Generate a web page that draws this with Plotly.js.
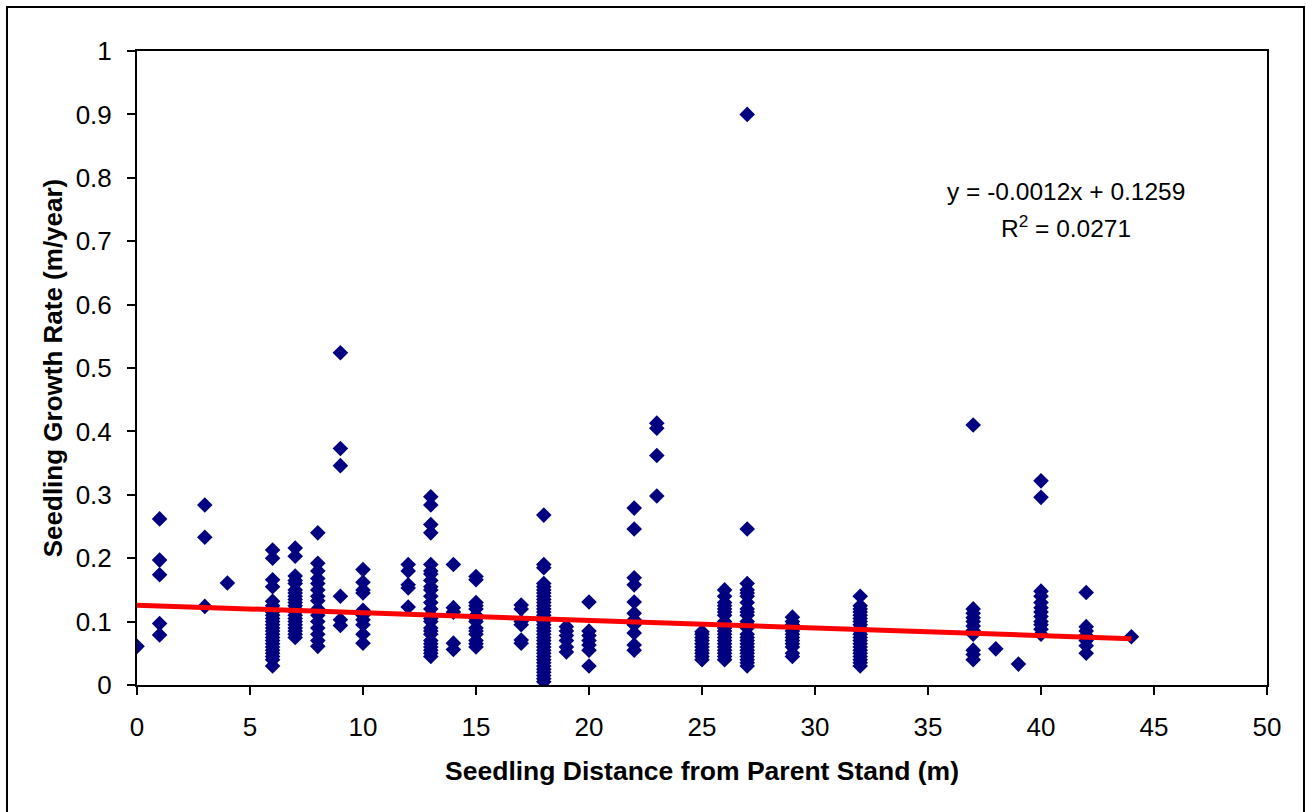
<!DOCTYPE html>
<html>
<head>
<meta charset="utf-8">
<script src="https://cdn.plot.ly/plotly-3.0.1.min.js"></script>
<style>
  html, body { margin: 0; padding: 0; background: #fff; overflow: hidden; }
  #frame { position: absolute; left: 6px; top: 6px; width: 1299px; height: 820px; border: 2px solid #000; box-sizing: border-box; pointer-events: none; z-index: 5; }
  #chart { position: absolute; left: 0; top: 0; width: 1306px; height: 812px; }
</style>
</head>
<body>
<div id="chart"></div>
<div id="frame"></div>
<script>
// Distances (m) of each column of seedlings
const columnDistances = [0, 1, 3, 4, 6, 7, 8, 9, 10, 12, 13, 14, 15, 17, 18, 19, 20, 22, 23, 25, 26, 27, 29, 32, 37, 38, 39, 40, 42, 44];
// Growth rates (m/year) observed at each distance
const columnRates = [
  [0.061],
  [0.262, 0.197, 0.174, 0.097, 0.079],
  [0.284, 0.233, 0.124],
  [0.161],
  [0.213, 0.200, 0.166, 0.155, 0.132, 0.125, 0.120, 0.115, 0.110, 0.105, 0.100, 0.095, 0.090, 0.085, 0.080, 0.075, 0.070, 0.065, 0.060, 0.055, 0.050, 0.045, 0.040, 0.030],
  [0.216, 0.203, 0.172, 0.165, 0.160, 0.150, 0.145, 0.140, 0.135, 0.130, 0.125, 0.120, 0.115, 0.110, 0.105, 0.100, 0.095, 0.090, 0.085, 0.080, 0.075],
  [0.240, 0.192, 0.180, 0.168, 0.160, 0.150, 0.140, 0.133, 0.120, 0.110, 0.100, 0.090, 0.080, 0.070, 0.061],
  [0.524, 0.373, 0.346, 0.140, 0.103, 0.094],
  [0.182, 0.162, 0.150, 0.145, 0.118, 0.110, 0.103, 0.095, 0.080, 0.066],
  [0.190, 0.180, 0.158, 0.153, 0.123],
  [0.297, 0.284, 0.253, 0.240, 0.190, 0.180, 0.175, 0.165, 0.155, 0.150, 0.140, 0.130, 0.120, 0.110, 0.105, 0.100, 0.090, 0.085, 0.080, 0.070, 0.065, 0.060, 0.055, 0.050, 0.045],
  [0.190, 0.122, 0.115, 0.066, 0.056],
  [0.171, 0.166, 0.130, 0.125, 0.120, 0.110, 0.105, 0.100, 0.090, 0.085, 0.080, 0.070, 0.065, 0.060],
  [0.126, 0.120, 0.100, 0.095, 0.071, 0.066],
  [0.268, 0.190, 0.185, 0.160, 0.155, 0.150, 0.145, 0.140, 0.135, 0.130, 0.125, 0.120, 0.115, 0.110, 0.105, 0.100, 0.095, 0.090, 0.085, 0.080, 0.075, 0.070, 0.065, 0.060, 0.055, 0.050, 0.045, 0.040, 0.035, 0.030, 0.025, 0.020, 0.015, 0.010, 0.005],
  [0.092, 0.085, 0.078, 0.070, 0.060, 0.052],
  [0.131, 0.085, 0.078, 0.070, 0.063, 0.055, 0.030],
  [0.279, 0.246, 0.169, 0.158, 0.131, 0.113, 0.103, 0.095, 0.082, 0.063, 0.055],
  [0.413, 0.405, 0.362, 0.298],
  [0.084, 0.080, 0.075, 0.070, 0.065, 0.060, 0.055, 0.050, 0.045, 0.040],
  [0.150, 0.140, 0.130, 0.125, 0.120, 0.115, 0.110, 0.100, 0.095, 0.090, 0.085, 0.080, 0.075, 0.070, 0.065, 0.060, 0.055, 0.050, 0.045, 0.040],
  [0.900, 0.246, 0.160, 0.150, 0.145, 0.140, 0.130, 0.120, 0.115, 0.110, 0.100, 0.095, 0.090, 0.080, 0.075, 0.070, 0.065, 0.060, 0.055, 0.050, 0.045, 0.040, 0.035, 0.030],
  [0.107, 0.100, 0.095, 0.090, 0.085, 0.080, 0.075, 0.070, 0.065, 0.060, 0.050, 0.045],
  [0.140, 0.125, 0.120, 0.115, 0.110, 0.105, 0.100, 0.095, 0.090, 0.085, 0.080, 0.075, 0.070, 0.065, 0.060, 0.055, 0.050, 0.045, 0.040, 0.035, 0.030],
  [0.410, 0.120, 0.113, 0.106, 0.100, 0.093, 0.086, 0.080, 0.055, 0.048, 0.040],
  [0.057],
  [0.033],
  [0.322, 0.296, 0.148, 0.140, 0.130, 0.122, 0.115, 0.108, 0.100, 0.095, 0.088, 0.080],
  [0.146, 0.092, 0.085, 0.078, 0.070, 0.062, 0.050],
  [0.076]
];
// Linear trendline endpoints (y = -0.0012x + 0.1259)
const trendX = [0, 44];
const trendY = [0.1259, 0.0731];
const equationText = "y = -0.0012x + 0.1259";
const r2Text = "R<sup>2</sup> = 0.0271";
const xTitle = "Seedling Distance from Parent Stand (m)";
const yTitle = "Seedling Growth Rate (m/year)";

const xs = [], ys = [];
columnDistances.forEach((d, i) => columnRates[i].forEach(v => { xs.push(d); ys.push(v); }));

const FONT = "Liberation Sans, Arial, sans-serif";

const traces = [
  { type: 'scatter', mode: 'markers', x: xs, y: ys,
    marker: { symbol: 'diamond', size: 12, color: '#000080', line: { width: 0 } },
    hoverinfo: 'x+y', showlegend: false },
  { type: 'scatter', mode: 'lines', x: trendX, y: trendY,
    line: { color: '#FF0000', width: 5 }, showlegend: false }
];

const layout = {
  width: 1306, height: 812,
  margin: { l: 137, r: 39, t: 51, b: 127, pad: 0 },
  paper_bgcolor: '#fff', plot_bgcolor: '#fff',
  font: { family: FONT, size: 24, color: '#000' },
  showlegend: false,
  xaxis: {
    range: [0, 50], dtick: 5, tick0: 0, showgrid: false, zeroline: false,
    showline: true, linecolor: '#000', linewidth: 2, mirror: true,
    ticks: 'outside', ticklen: 8, tickwidth: 2, tickcolor: '#000',
    ticklabelstandoff: 10,
    tickfont: { family: FONT, size: 26, color: '#000' },
    title: { text: xTitle, font: { family: FONT, size: 26.5, color: '#000', weight: 'bold' }, standoff: 20 }
  },
  yaxis: {
    range: [0, 1], dtick: 0.1, tick0: 0, showgrid: false, zeroline: false,
    showline: true, linecolor: '#000', linewidth: 2, mirror: true,
    ticks: 'outside', ticklen: 8, tickwidth: 2, tickcolor: '#000',
    ticklabelstandoff: 10,
    tickfont: { family: FONT, size: 26, color: '#000' },
    title: { text: yTitle, font: { family: FONT, size: 26, color: '#000', weight: 'bold' }, standoff: 6 }
  },
  annotations: [
    { x: 41.1, y: 0.778, xref: 'x', yref: 'y', text: equationText, showarrow: false,
      font: { family: FONT, size: 24.5, color: '#000' }, xanchor: 'center', yanchor: 'middle' },
    { x: 41.1, y: 0.723, xref: 'x', yref: 'y', text: r2Text, showarrow: false,
      font: { family: FONT, size: 24.5, color: '#000' }, xanchor: 'center', yanchor: 'middle' }
  ]
};

Plotly.newPlot('chart', traces, layout, { displayModeBar: false, staticPlot: true });
</script>
</body>
</html>
